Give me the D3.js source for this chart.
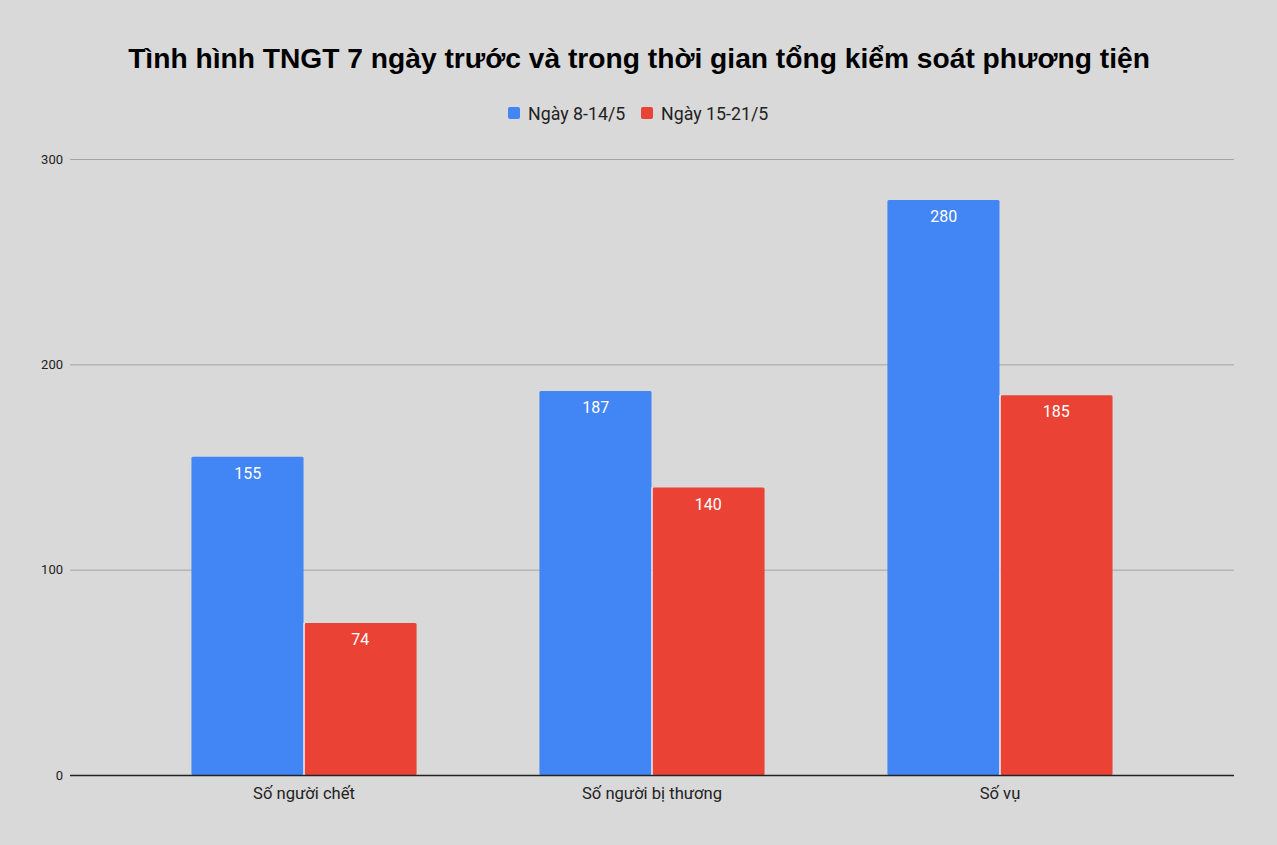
<!DOCTYPE html>
<html>
<head>
<meta charset="utf-8">
<script src="https://cdn.jsdelivr.net/npm/d3@7"></script>
<style>
  html, body { margin: 0; padding: 0; background: #d9d9d9; }
  svg { display: block; }
</style>
</head>
<body>
<svg id="chart"></svg>
<script>
const categories = ["Số người chết", "Số người bị thương", "Số vụ"];
const seriesNames = ["Ngày 8-14/5", "Ngày 15-21/5"];
const before = [155, 187, 280];
const after = [74, 140, 185];
const yTicks = [0, 100, 200, 300];
const colors = ["#4285f4", "#ea4335"];

const width = 1277, height = 845;
const plotLeft = 70, plotRight = 1234, plotTop = 159, plotBottom = 775;

const svg = d3.select("#chart").attr("width", width).attr("height", height);

svg.append("rect").attr("width", width).attr("height", height).attr("fill", "#d9d9d9");

// title
svg.append("text")
  .attr("x", width / 2 + 0.5).attr("y", 68)
  .attr("text-anchor", "middle")
  .attr("font-family", "Liberation Sans, Arial, sans-serif")
  .attr("font-weight", "bold")
  .attr("font-size", "28.2px")
  .attr("fill", "#000")
  .text("Tình hình TNGT 7 ngày trước và trong thời gian tổng kiểm soát phương tiện");

// scales
const x = d3.scaleBand().domain(categories).range([plotLeft, plotRight])
  .paddingInner(0.353).paddingOuter(0.349);
const xs = d3.scaleBand().domain(seriesNames).range([0, x.bandwidth()]);
const y = d3.scaleLinear().domain([0, 300]).range([plotBottom, plotTop]);

// gridlines
svg.append("g")
  .selectAll("line")
  .data(yTicks.filter(d => d > 0))
  .enter().append("line")
  .attr("x1", plotLeft).attr("x2", plotRight)
  .attr("y1", d => y(d) + 0.5).attr("y2", d => y(d) + 0.5)
  .attr("stroke", "#a3a3a3").attr("stroke-width", 1);

// y tick labels
const yAxis = d3.axisLeft(y).tickValues(yTicks).tickSize(0).tickPadding(7);
const gy = svg.append("g").attr("transform", `translate(${plotLeft},0)`).call(yAxis);
gy.select(".domain").remove();
gy.selectAll("text")
  .attr("font-family", "Roboto, sans-serif")
  .attr("font-size", "13px")
  .attr("fill", "#222");

// bars
const data = categories.map((c, i) => ({ cat: c, vals: [before[i], after[i]] }));
const groups = svg.append("g").selectAll("g")
  .data(data).enter().append("g")
  .attr("transform", d => `translate(${x(d.cat)},0)`);

groups.selectAll("rect")
  .data(d => d.vals.map((v, j) => ({ name: seriesNames[j], v, j })))
  .enter().append("rect")
  .attr("x", d => xs(d.name) + (d.j === 1 ? 0.5 : 0))
  .attr("width", d => xs.bandwidth() - 0.5)
  .attr("y", d => y(d.v))
  .attr("height", d => y(0) - y(d.v))
  .attr("rx", 1.5)
  .attr("fill", d => colors[d.j]);

// white separator between the two bars of a group
groups.append("line")
  .attr("x1", xs(seriesNames[1])).attr("x2", xs(seriesNames[1]))
  .attr("y1", d => y(Math.min(d.vals[0], d.vals[1])))
  .attr("y2", y(0))
  .attr("stroke", "#ffffff").attr("stroke-width", 1);

// value labels
groups.selectAll("text.val")
  .data(d => d.vals.map((v, j) => ({ name: seriesNames[j], v, j })))
  .enter().append("text")
  .attr("class", "val")
  .attr("x", d => xs(d.name) + xs.bandwidth() / 2)
  .attr("y", d => y(d.v) + 22)
  .attr("text-anchor", "middle")
  .attr("font-family", "Roboto, sans-serif")
  .attr("font-size", "16px")
  .attr("fill", "#ffffff")
  .text(d => d.v);

// x axis baseline
svg.append("line")
  .attr("x1", plotLeft).attr("x2", plotRight)
  .attr("y1", y(0) + 0.5).attr("y2", y(0) + 0.5)
  .attr("stroke", "#222").attr("stroke-width", 1.3);

// x labels
const xAxis = d3.axisBottom(x).tickSize(0).tickPadding(12);
const gx = svg.append("g").attr("transform", `translate(0,${plotBottom})`).call(xAxis);
gx.select(".domain").remove();
gx.selectAll("text")
  .attr("font-family", "Roboto, sans-serif")
  .attr("font-size", "16.6px")
  .attr("fill", "#222");

// legend
const legend = svg.append("g").attr("transform", "translate(508,113)");
const items = [
  { name: seriesNames[0], x: 0 },
  { name: seriesNames[1], x: 133 }
];
items.forEach((it, j) => {
  legend.append("rect")
    .attr("x", it.x).attr("y", -6)
    .attr("width", 12).attr("height", 12).attr("rx", 2)
    .attr("fill", colors[j]);
  legend.append("text")
    .attr("x", it.x + 20).attr("y", 6.5)
    .attr("font-family", "Roboto, sans-serif")
    .attr("font-size", "17.8px")
    .attr("fill", "#222")
    .text(it.name);
});
</script>
</body>
</html>
